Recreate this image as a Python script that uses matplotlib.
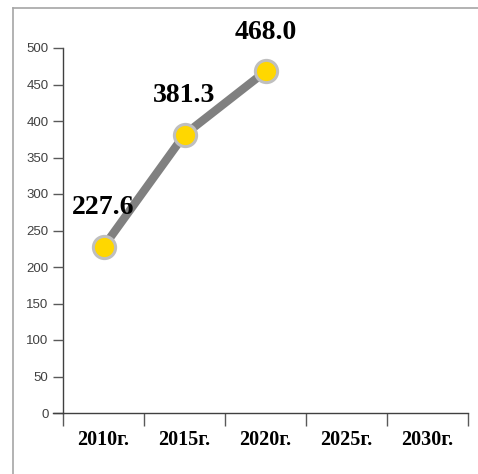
import matplotlib
matplotlib.use("Agg")
import matplotlib.pyplot as plt
from matplotlib.lines import Line2D

# Data
categories = ["2010г.", "2015г.", "2020г.", "2025г.", "2030г."]
values = [227.6, 381.3, 468.0]
y_ticks = [0, 50, 100, 150, 200, 250, 300, 350, 400, 450, 500]

W, H = 478, 474
fig = plt.figure(figsize=(W / 100, H / 100), dpi=100)
fig.patch.set_facecolor("white")

# Outer frame: top and left gray lines
fig.add_artist(Line2D([13 / W, 1], [1 - 8 / H, 1 - 8 / H], color="#a6a6a6", lw=1.2))
fig.add_artist(Line2D([13 / W, 13 / W], [0, 1 - 8 / H], color="#a6a6a6", lw=1.2))

left, right = 63 / W, 468 / W
bottom, top = 1 - 413 / H, 1 - 48 / H
ax = fig.add_axes([left, bottom, right - left, top - bottom])

x = [i + 0.5 for i in range(len(values))]
ax.plot(x, values, color="#808080", lw=6, solid_capstyle="butt", zorder=2)
ax.plot(x, values, linestyle="none", marker="o", markersize=16,
        markerfacecolor="#ffd700", markeredgecolor="#bfbfbf",
        markeredgewidth=2.2, zorder=3)

for xi, v in zip(x, values):
    ax.annotate(f"{v:.1f}", (xi, v), xytext=(0, 28), textcoords="offset points",
                ha="center", va="center", fontsize=20, fontweight="bold",
                family="Liberation Serif", color="black", zorder=4)

ax.set_xlim(0, len(categories))
ax.set_ylim(0, 500)
ax.set_yticks(y_ticks)
ax.set_yticklabels([str(t) for t in y_ticks], family="Liberation Sans",
                   fontsize=9.5, color="#404040")

# Category boundaries carry the tick marks; labels sit at band centers
ax.set_xticks(range(len(categories) + 1))
ax.set_xticklabels([])
ax.set_xticks([i + 0.5 for i in range(len(categories))], minor=True)
ax.set_xticklabels(categories, minor=True, family="Liberation Serif",
                   fontweight="bold", fontsize=14.5, color="black")
ax.tick_params(axis="x", which="major", direction="out", length=9, width=1,
               color="#595959")
ax.tick_params(axis="x", which="minor", length=0, pad=12)
ax.tick_params(axis="y", direction="out", length=7.5, width=1, color="#595959",
               pad=3)

for s in ["top", "right"]:
    ax.spines[s].set_visible(False)
for s in ["left", "bottom"]:
    ax.spines[s].set_color("#404040")
    ax.spines[s].set_linewidth(1)
ax.spines["left"].set_zorder(1)

# Extend baseline left to meet the zero tick
ax.plot([-0.125, 0], [0, 0], color="#404040", lw=1, clip_on=False)

ax.set_facecolor("none")
fig.savefig("out.png", dpi=100, facecolor="white")
